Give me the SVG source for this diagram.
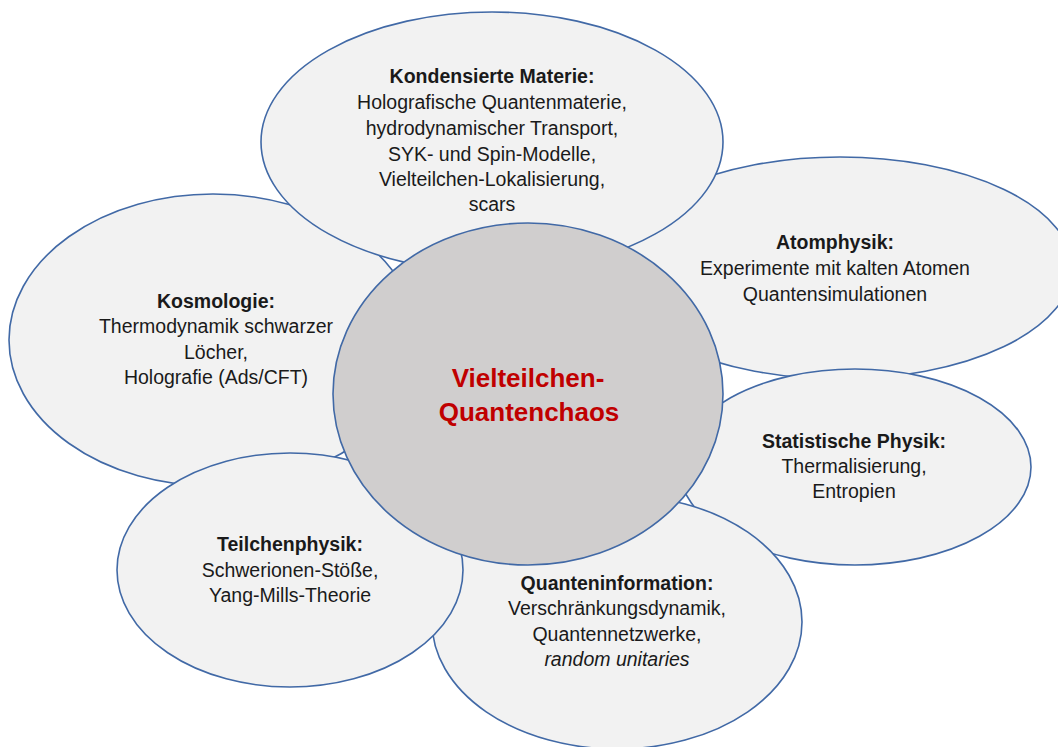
<svg xmlns="http://www.w3.org/2000/svg" width="1058" height="747" viewBox="0 0 1058 747">
<style>
.bub{fill:#f2f2f2;stroke:#4169a6;stroke-width:1.6}
.core{fill:#d0cece;stroke:#4169a6;stroke-width:1.6}
text{font-family:"Liberation Sans",Arial,sans-serif;font-size:19.5px;fill:#1a1a1a;text-anchor:middle}
.h{font-weight:bold}
.i{font-style:italic}
.c{font-weight:bold;font-size:26px;fill:#c00000}
</style>
<rect width="1058" height="747" fill="#ffffff"/>
<g id="atomphysik">
<ellipse class="bub" cx="840" cy="268" rx="232" ry="111"/>
<text class="h" x="835" y="249">Atomphysik:</text>
<text x="835" y="275">Experimente mit kalten Atomen</text>
<text x="835" y="301">Quantensimulationen</text>
</g>
<g id="statistische-physik">
<ellipse class="bub" cx="855" cy="467" rx="176" ry="98"/>
<text class="h" x="854" y="448">Statistische Physik:</text>
<text x="854" y="473">Thermalisierung,</text>
<text x="854" y="498">Entropien</text>
</g>
<g id="quanteninformation">
<ellipse class="bub" cx="617" cy="622" rx="185" ry="127"/>
<text class="h" x="617" y="590">Quanteninformation:</text>
<text x="617" y="615">Verschränkungsdynamik,</text>
<text x="617" y="641">Quantennetzwerke,</text>
<text class="i" x="617" y="666">random unitaries</text>
</g>
<g id="kosmologie">
<ellipse class="bub" cx="213" cy="340" rx="204" ry="146"/>
<text class="h" x="216" y="308">Kosmologie:</text>
<text x="216" y="333">Thermodynamik schwarzer</text>
<text x="216" y="359">Löcher,</text>
<text x="216" y="384">Holografie (Ads/CFT)</text>
</g>
<g id="teilchenphysik">
<ellipse class="bub" cx="290" cy="570" rx="173" ry="117"/>
<text class="h" x="290" y="551">Teilchenphysik:</text>
<text x="290" y="577">Schwerionen-Stöße,</text>
<text x="290" y="602">Yang-Mills-Theorie</text>
</g>
<g id="kondensierte-materie">
<ellipse class="bub" cx="492" cy="142" rx="231" ry="130"/>
<text class="h" x="492" y="83">Kondensierte Materie:</text>
<text x="492" y="109">Holografische Quantenmaterie,</text>
<text x="492" y="135">hydrodynamischer Transport,</text>
<text x="492" y="161">SYK- und Spin-Modelle,</text>
<text x="492" y="186">Vielteilchen-Lokalisierung,</text>
<text x="492" y="211">scars</text>
</g>
<g id="vielteilchen-quantenchaos">
<ellipse class="core" cx="528" cy="394" rx="195" ry="171"/>
<text class="c" x="528" y="387">Vielteilchen-</text>
<text class="c" x="529" y="421">Quantenchaos</text>
</g>
</svg>
